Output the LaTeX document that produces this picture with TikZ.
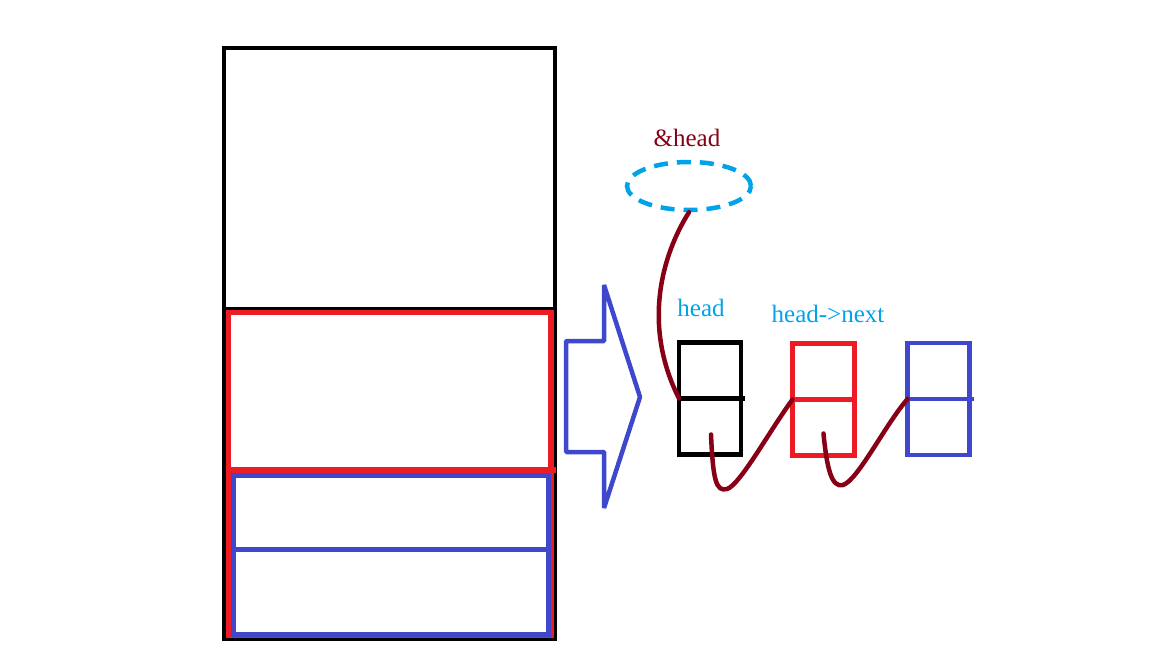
\documentclass[tikz,border=0pt]{standalone}
\usepackage{fontspec}
\setmainfont{Liberation Serif}
\usetikzlibrary{positioning,shapes.geometric,calc}
\definecolor{paintred}{RGB}{237,28,36}
\definecolor{paintblue}{RGB}{63,72,204}
\definecolor{paintcyan}{RGB}{0,162,232}
\definecolor{linkred}{RGB}{136,0,21}
\begin{document}
\begin{tikzpicture}[x=1pt, y=-1pt, line join=miter,
	cell/.style={draw, line width=4.5pt, minimum width=62pt, minimum height=56pt, inner sep=0pt, outer sep=0pt},
	link/.style={draw=linkred, line width=4.5pt, line cap=round},
	lbl/.style={anchor=base, inner sep=0pt, font=\fontsize{25}{30}\selectfont}]
	\useasboundingbox (0,0) rectangle (1152,648);
	
	% Vùng nhớ (khối lớn bên trái)
	\coordinate (S1) at (224,48);
	\coordinate (S2) at (555,638.5);
	\draw[line width=4.5pt] (S1) rectangle (S2);
	\draw[line width=4.5pt] (224,309) -- (555,309);
	\draw[paintred, line width=5.5pt] (228.5,312.5) rectangle (551,635.5);
	\draw[paintred, line width=5.5pt] (228.5,470) -- (556,470);
	\draw[paintblue, line width=5.5pt] (233.5,475.5) rectangle (548.5,634.5);
	\draw[paintblue, line width=5.5pt] (233.5,549.5) -- (548.5,549.5);
	
	% Mũi tên lớn
	\draw[paintblue, line width=4.5pt, line join=bevel] (566,341) -- (604,341) -- (604,285) -- (640,397) -- (604,508) -- (604,452) -- (566,452) -- cycle;
	
	% Con trỏ &head
	\node[ellipse, draw=paintcyan, line width=4.5pt, dash pattern=on 14pt off 9pt, minimum width=124pt, minimum height=48pt, inner sep=0pt] (addr) at (689,186) {};
	\node[lbl, text=linkred] (addrlbl) at (687,146) {\&head};
	
	% Các phần tử của danh sách
	\foreach \n/\x/\y/\c in {1/710/370.5/black, 2/823.5/371.5/paintred, 3/938.5/371/paintblue} {
		\node[cell, draw=\c] (el\n top) at (\x,\y) {};
		\node[cell, draw=\c, below=0pt of el\n top] (el\n bot) {};
	}
	\draw[line width=4.5pt] (el1top.south west) -- ++(66,0);
	\draw[paintblue, line width=4.5pt] (el3top.south west) -- ++(66,0);
	\node[lbl, text=paintcyan] (headlbl) at (701,316) {head};
	\node[lbl, text=paintcyan] (nextlbl) at (828,322) {head->next};
	
	% Các liên kết
	\draw[link] (addr.south) .. controls (662,255) and (642,325) .. (el1top.south west);
	\draw[link] ($(el1bot.center)+(1,8)$) .. controls (713,480) and (716,492) .. (727,489)
		.. controls (740,485) and (770,430) .. (el2top.south west);
	\draw[link] ($(el2bot.center)+(0,6)$) .. controls (827,470) and (832,488) .. (843,485)
		.. controls (858,480) and (885,425) .. (el3top.south west);
\end{tikzpicture}
\end{document}
